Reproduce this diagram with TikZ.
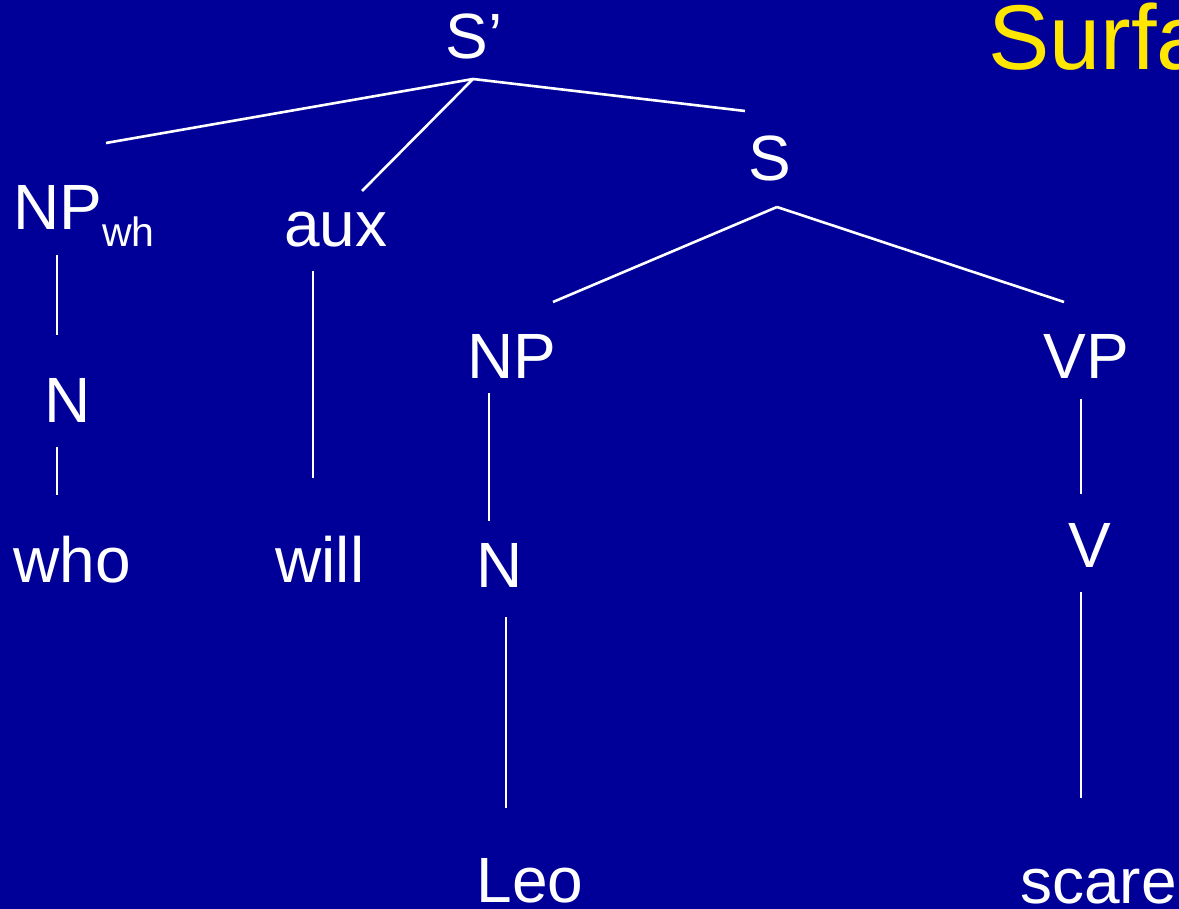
\documentclass[tikz,border=0pt]{standalone}
\usepackage{fontspec}
\setmainfont{Liberation Sans}
\definecolor{slideblue}{RGB}{0,0,153}
\definecolor{titleyellow}{RGB}{255,230,0}
\tikzset{
  cat/.style={text=white, inner sep=0pt, anchor=base, font=\fontsize{64}{64}\selectfont},
  branch/.style={-, draw=white, line width=2.6pt},
}
\begin{document}
\begin{tikzpicture}[x=1pt,y=-1pt]
\useasboundingbox (0,0) rectangle (1179,909);
\clip (0,0) rectangle (1179,909);
\fill[slideblue] (0,0) rectangle (1179,909);
\node[cat, anchor=base west, text=titleyellow, font=\fontsize{92}{92}\selectfont] (title) at (988,70) {Surfa};
% categories
\node[cat] (Sbar) at (474,59) {S’};
\node[cat, anchor=base west] (NPwh) at (13,230) {NP{\fontsize{41}{41}\selectfont\raisebox{-17pt}{wh}}};
\node[cat] (aux) at (336,247) {aux};
\node[cat] (S) at (770,181) {S};
\node[cat] (NP) at (512,379) {NP};
\node[cat] (VP) at (1086,379) {VP};
\node[cat] (N1) at (68,423) {N};
\node[cat] (N2) at (500,587) {N};
\node[cat] (V) at (1090,567) {V};
% words
\node[cat] (who) at (72,582) {who};
\node[cat] (will) at (320,582) {will};
\node[cat] (Leo) at (530,902) {Leo};
\node[cat, anchor=base west] (scare) at (1020,903) {scare};
% branch ends
\coordinate (Sbar-top) at (473,79);
\coordinate (NPwh-up) at (106,143);
\coordinate (aux-up) at (362,191);
\coordinate (S-up) at (745,111);
\coordinate (S-top) at (777,207);
\coordinate (NP-up) at (553,302);
\coordinate (VP-up) at (1064,302);
\coordinate (NPwh-down) at (57,255);
\coordinate (N1-up) at (57,335);
\coordinate (N1-down) at (57,447);
\coordinate (who-up) at (57,495);
\coordinate (aux-down) at (313,271);
\coordinate (will-up) at (313,478);
\coordinate (NP-down) at (489,393);
\coordinate (N2-up) at (489,521);
\coordinate (N2-down) at (506,617);
\coordinate (Leo-up) at (506,808);
\coordinate (VP-down) at (1081,399);
\coordinate (V-up) at (1081,494);
\coordinate (V-down) at (1081,592);
\coordinate (scare-up) at (1081,798);
\path [branch] (Sbar-top) edge (NPwh-up);
\path [branch] (Sbar-top) edge (aux-up);
\path [branch] (Sbar-top) edge (S-up);
\path [branch] (S-top) edge (NP-up);
\path [branch] (S-top) edge (VP-up);
\path [branch] (NPwh-down) edge (N1-up);
\path [branch] (N1-down) edge (who-up);
\path [branch] (aux-down) edge (will-up);
\path [branch] (NP-down) edge (N2-up);
\path [branch] (N2-down) edge (Leo-up);
\path [branch] (VP-down) edge (V-up);
\path [branch] (V-down) edge (scare-up);
\end{tikzpicture}
\end{document}
